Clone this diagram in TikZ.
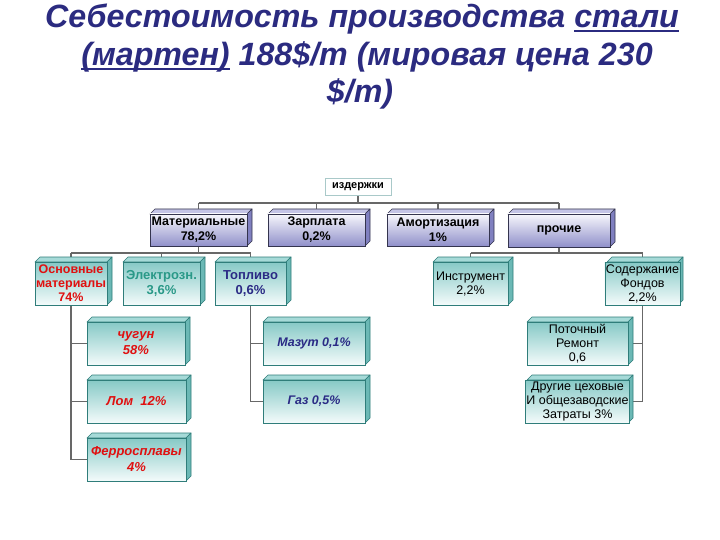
\documentclass[tikz,border=0pt]{standalone}
\usepackage{fontspec}
\setmainfont{Liberation Sans}
\definecolor{titleblue}{HTML}{2B2B80}
\definecolor{lavtopc}{HTML}{F7F7FC}
\definecolor{lavbotc}{HTML}{9090CA}
\definecolor{lavsidec}{HTML}{8080C0}
\definecolor{lavfacec}{HTML}{C4C4E6}
\definecolor{lavlinec}{HTML}{34344E}
\definecolor{teatopc}{HTML}{86C9C6}
\definecolor{teabotc}{HTML}{F4FBFB}
\definecolor{teasidec}{HTML}{6BB8B5}
\definecolor{teafacec}{HTML}{A6DAD8}
\definecolor{tealinec}{HTML}{2F7D7A}
\definecolor{conncol}{HTML}{686868}
\definecolor{redtxt}{HTML}{E01010}
\definecolor{elteal}{HTML}{2A9988}
\definecolor{navytxt}{HTML}{2A2A85}
\definecolor{izdline}{HTML}{A9C9C9}
\newcommand{\myul}[1]{\sbox0{#1}\rlap{\rule[-4pt]{\wd0}{1.8pt}}\usebox0}
\pgfdeclarelayer{bg}
\pgfsetlayers{bg,main}
\tikzset{
  titlest/.style={text=titleblue, font=\bfseries\itshape\fontsize{32.2}{38}\selectfont, inner sep=0pt},
  lavF/.style={draw=lavlinec, top color=lavtopc, bottom color=lavbotc, line width=0.6pt, inner sep=1pt, align=center, font=\bfseries\fontsize{12.5}{15}\selectfont},
  lavT/.style={fill=lavfacec, draw=lavlinec, line width=0.6pt, line join=round},
  lavR/.style={fill=lavsidec, draw=lavlinec, line width=0.6pt, line join=round},
  teaF/.style={draw=tealinec, top color=teatopc, bottom color=teabotc, line width=0.6pt, inner sep=1pt, align=center, font=\fontsize{12}{14}\selectfont},
  teaT/.style={fill=teafacec, draw=tealinec, line width=0.6pt, line join=round},
  teaR/.style={fill=teasidec, draw=tealinec, line width=0.6pt, line join=round},
  conn/.style={draw=conncol, line width=1.8pt},
  redb/.style={text=redtxt, font=\bfseries\fontsize{12.5}{14}\selectfont},
  redbi/.style={text=redtxt, font=\bfseries\itshape\fontsize{13}{16}\selectfont},
  navyb/.style={text=navytxt, font=\bfseries\fontsize{13}{15}\selectfont},
  navybi/.style={text=navytxt, font=\bfseries\itshape\fontsize{12.5}{15}\selectfont},
  elb/.style={text=elteal, font=\bfseries\fontsize{13}{15.5}\selectfont},
  blk/.style={text=black, font=\fontsize{12.5}{14}\selectfont},
}
% name, x1, y1, x2, y2, kind, extra style, text
\newcommand{\tdbox}[8]{%
  \path[#6T] (#2,#3) -- ++(5,-5) -- (#4+5,#3-5) -- (#4,#3) -- cycle;
  \path[#6R] (#4,#3) -- (#4+5,#3-5) -- (#4+5,#5-5) -- (#4,#5) -- cycle;
  \pgfmathsetmacro\bxw{#4-#2}%
  \pgfmathsetmacro\bxh{#5-#3}%
  \node[#6F, minimum width=\bxw pt, minimum height=\bxh pt, #7] (#1) at ({(#2+#4)/2},{(#3+#5)/2}) {#8};
}
\begin{document}
\begin{tikzpicture}[x=1pt,y=-1pt]
\useasboundingbox (0,0) rectangle (720,540);
\begin{pgfonlayer}{bg}
\fill[white] (0,0) rectangle (720,540);
\end{pgfonlayer}
% title
\node[titlest, anchor=base] (t1) at (362,28) {Себестоимость производства \myul{стали}};
\node[titlest, anchor=base] (t2) at (367,66) {\myul{(мартен)} 188\$/m (мировая цена 230};
\node[titlest, anchor=base] (t3) at (360,103) {\$/m)};
% root
\node[draw=izdline, fill=white, line width=0.8pt, minimum width=66pt, minimum height=17pt, inner sep=1pt,
      font=\bfseries\fontsize{11}{13}\selectfont] (izd) at (358,187) {\raisebox{-1.5pt}{издержки}};
% level 1
\tdbox{mat}{150}{214}{247}{246}{lav}{}{Материальные\\78,2\%}
\tdbox{zarp}{268}{214}{365}{246}{lav}{}{Зарплата\\0,2\%}
\tdbox{amort}{387}{214}{489}{246}{lav}{}{Амортизация\\1\%}
\tdbox{proch}{508}{214}{610}{247}{lav}{}{\raisebox{-3pt}{прочие}}
% level 2
\tdbox{osn}{35}{262}{107}{305}{tea}{redb}{Основные\\материалы\\74\%}
\tdbox{elek}{123}{262}{200}{305}{tea}{elb}{Электрозн.\\3,6\%}
\tdbox{topl}{215}{262}{286}{305}{tea}{navyb}{Топливо\\0,6\%}
\tdbox{instr}{433}{262}{508}{305}{tea}{blk}{Инструмент\\2,2\%}
\tdbox{sod}{607}{262}{678}{305}{tea}{blk}{Содержание\\Фондов\\2,2\%}
% level 3
\tdbox{chug}{87}{322}{185}{365}{tea}{redbi}{чугун\\58\%}
\tdbox{lom}{87}{380}{186}{423}{tea}{redbi}{Лом~~12\%}
\tdbox{ferro}{87}{438}{186}{481}{tea}{redbi}{Ферросплавы\\4\%}
\tdbox{mazut}{263}{322}{365}{365}{tea}{navybi}{Мазут 0,1\%}
\tdbox{gaz}{263}{380}{365}{423}{tea}{navybi}{Газ 0,5\%}
\tdbox{potoch}{527}{322}{628}{365}{tea}{blk}{Поточный\\Ремонт\\0,6}
\tdbox{drug}{527}{380}{628}{423}{tea}{blk}{Другие цеховые\\И общезаводские\\Затраты 3\%}
% connectors
\coordinate (j0) at (358,203);
\coordinate (j1) at (0,253);
\begin{pgfonlayer}{bg}
\draw[conn] (izd.south) -- (izd.south|-j0);
\draw[conn] (mat.north|-j0) -- (proch.north|-j0);
\foreach \n in {mat,zarp,amort,proch} \draw[conn] (\n.north|-j0) -- (\n.north);
\draw[conn] (mat.south) -- (mat.south|-j1);
\draw[conn] (osn.north|-j1) -- (topl.north|-j1);
\foreach \n in {osn,elek,topl} \draw[conn] (\n.north|-j1) -- (\n.north);
\draw[conn] (proch.south) -- (proch.south|-j1);
\draw[conn] (instr.north|-j1) -- (sod.north|-j1);
\foreach \n in {instr,sod} \draw[conn] (\n.north|-j1) -- (\n.north);
\draw[conn] (osn.south) -- (osn.south|-ferro.west);
\foreach \n in {chug,lom,ferro} \draw[conn] (osn.south|-\n.west) -- (\n.west);
\draw[conn] (topl.south) -- (topl.south|-gaz.west);
\foreach \n in {mazut,gaz} \draw[conn] (topl.south|-\n.west) -- (\n.west);
\draw[conn] (sod.south) -- (sod.south|-drug.east);
\foreach \n in {potoch,drug} \draw[conn] (sod.south|-\n.east) -- (\n.east);
\end{pgfonlayer}
\end{tikzpicture}
\end{document}
